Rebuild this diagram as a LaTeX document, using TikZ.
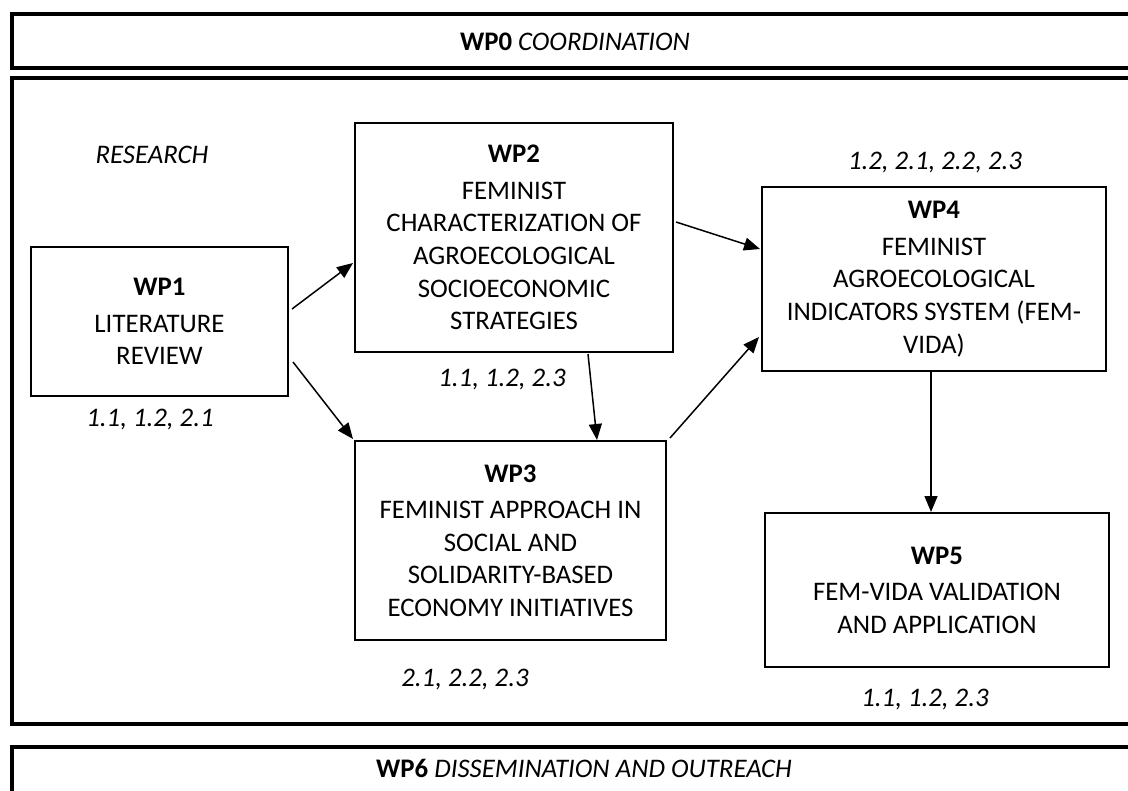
\documentclass[tikz,border=0pt]{standalone}
\usepackage{fontspec}
\setmainfont{Carlito}
\usetikzlibrary{arrows.meta,calc}
\begin{document}
\begin{tikzpicture}[x=0.5pt,y=-0.5pt,
  frame/.style={draw,line width=2pt},
  wpbox/.style={draw,line width=1pt,rectangle,inner sep=0pt,align=center,
    font=\fontsize{13.4}{16.3}\selectfont},
  lbl/.style={inner sep=0pt,font=\fontsize{13.4}{16.3}\selectfont\itshape},
  bar/.style={inner sep=0pt,font=\fontsize{13.4}{16.3}\selectfont},
  arr/.style={line width=0.75pt,-{Triangle[length=8pt,width=6.5pt]}}]
\clip (0,0) rectangle (1128,791);
\fill[white] (0,0) rectangle (1128,791);
% outer frames
\draw[frame] (12,14.5) rectangle (1150,68);
\draw[frame] (12,78) rectangle (1150,724);
\draw[frame] (12,747) rectangle (1150,810);
\node[bar] (wp0) at (575,42) {\textbf{WP0} \textit{COORDINATION}};
\node[bar] (wp6) at (584,768) {\textbf{WP6} \textit{DISSEMINATION AND OUTREACH}};
% boxes
\node[wpbox,minimum width=128.5pt,minimum height=74.5pt] (wp1) at (159.5,321.5)
  {\textbf{WP1}\\[2pt] LITERATURE\\ REVIEW};
\node[wpbox,minimum width=159pt,minimum height=114.5pt] (wp2) at (514,237.5)
  {\textbf{WP2}\\[2pt] FEMINIST\\ CHARACTERIZATION OF\\ AGROECOLOGICAL\\ SOCIOECONOMIC\\ STRATEGIES};
\node[wpbox,minimum width=155.5pt,minimum height=99.5pt] (wp3) at (510.5,540.5)
  {\textbf{WP3}\\[2pt] FEMINIST APPROACH IN\\ SOCIAL AND\\ SOLIDARITY-BASED\\ ECONOMY INITIATIVES};
\node[wpbox,minimum width=172pt,minimum height=92pt] (wp4) at (934,279)
  {\textbf{WP4}\\[2pt] FEMINIST\\ AGROECOLOGICAL\\ INDICATORS SYSTEM (FEM-\\ VIDA)};
\node[wpbox,minimum width=172pt,minimum height=77pt] (wp5) at (937,590)
  {\textbf{WP5}\\[2pt] FEM-VIDA VALIDATION\\ AND APPLICATION};
% labels
\node[lbl] (res) at (152,155) {RESEARCH};
\node[lbl] (l1) at (150,420) {1.1, 1.2, 2.1};
\node[lbl] (l2) at (502,380) {1.1, 1.2, 2.3};
\node[lbl] (l4) at (935,163) {1.2, 2.1, 2.2, 2.3};
\node[lbl] (l3) at (465,680) {2.1, 2.2, 2.3};
\node[lbl] (l5) at (925,700) {1.1, 1.2, 2.3};
% arrows
\coordinate (a45) at ($(wp4.south)+(-3,0)$);
\draw[arr] ($(wp1.north east)+(3,63)$) -- ($(wp2.north west)+(-1,141)$);
\draw[arr] ($(wp1.north east)+(4,116)$) -- ($(wp3.north west)+(-1,-1)$);
\draw[arr] ($(wp2.south west)+(234,1)$) -- ($(wp3.north west)+(243,0)$);
\draw[arr] ($(wp2.north east)+(2,100)$) -- ($(wp4.north west)+(-1,63)$);
\draw[arr] ($(wp3.north east)+(3,-2)$) -- ($(wp4.north west)+(-2,151)$);
\draw[arr] (a45) -- (a45 |- wp5.north);
\end{tikzpicture}
\end{document}
